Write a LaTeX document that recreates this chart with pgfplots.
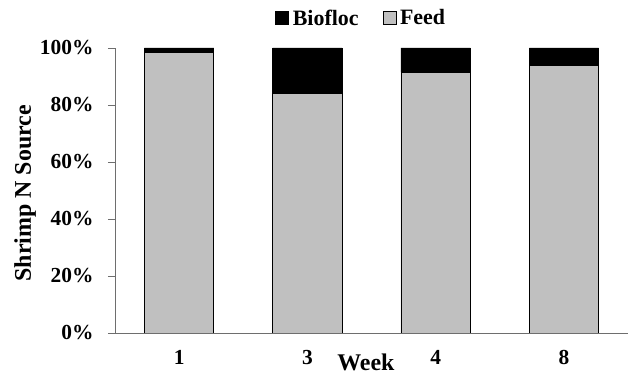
\documentclass[border=0pt]{standalone}
\usepackage{fontspec}
\setmainfont{Liberation Serif}
\usepackage{pgfplots}
\pgfplotsset{compat=1.18}
\definecolor{feedgray}{RGB}{192,192,192}
\definecolor{axgray}{RGB}{110,110,110}
\newcommand{\tickf}{\fontsize{21.5}{24}\selectfont\bfseries}
\newcommand{\legf}{\fontsize{22}{24}\selectfont\bfseries}
\newcommand{\labf}{\fontsize{24}{26}\selectfont\bfseries}
\begin{document}
\begin{tikzpicture}
\useasboundingbox (-115bp,-57bp) rectangle (525bp,333bp);
\begin{axis}[
  scale only axis,
  width=513bp, height=285bp,
  at={(0,0)}, anchor=south west,
  ybar stacked,
  bar width=0.54,
  xmin=-0.5, xmax=3.5,
  ymin=0, ymax=100,
  axis x line*=bottom,
  axis y line*=left,
  axis line style={draw=axgray, line width=0.8bp},
  xtick={0,1,2,3},
  xticklabels={1,3,4,8},
  major x tick style={draw=none},
  extra x ticks={-0.5,0.5,1.5,2.5,3.5},
  extra x tick labels={},
  extra x tick style={tick style={draw=axgray, line width=0.8bp}, major tick length=8bp, tick align=outside},
  ytick={0,20,40,60,80,100},
  yticklabel={\pgfmathprintnumber{\tick}\%},
  ytick style={draw=axgray, line width=0.8bp},
  major tick length=7bp,
  tick align=outside,
  /pgf/number format/assume math mode=true,
  ticklabel style={font=\tickf},
  yticklabel style={xshift=-11bp},
  xticklabel style={yshift=-7bp},
  xlabel={Week},
  ylabel={Shrimp N Source},
  label style={font=\labf},
  xlabel style={at={(axis description cs:0.489,-0.102)}, anchor=center},
  ylabel style={at={(axis description cs:-0.175,0.49)}, anchor=center},
  legend style={draw=none, at={(axis description cs:0.482,1.105)}, anchor=center,
    font=\legf, legend columns=2,
    nodes={inner xsep=4bp},
    /tikz/every even column/.append style={column sep=20bp}},
  legend image code/.code={\draw[#1] (0bp,-6.5bp) rectangle (13bp,6.5bp);},
]
\addlegendimage{fill=black, draw=black}
\addlegendentry{Biofloc}
\addlegendimage{fill=feedgray, draw=black}
\addlegendentry{Feed}
\addplot[fill=feedgray, draw=black, line width=0.8bp, forget plot] coordinates {(0,98.4) (1,84.2) (2,91.5) (3,93.9)};
\addplot[fill=black, draw=black, line width=0.8bp, forget plot] coordinates {(0,1.6) (1,15.8) (2,8.5) (3,6.1)};
\end{axis}
\end{tikzpicture}
\end{document}
